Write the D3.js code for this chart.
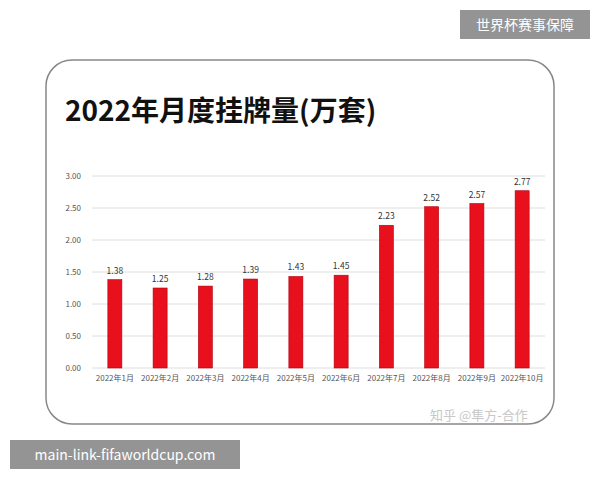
<!DOCTYPE html>
<html><head><meta charset="utf-8">
<script src="https://cdn.jsdelivr.net/npm/d3@7"></script>
<style>body{margin:0;background:#fff}svg{display:block}</style>
</head><body>
<svg id="c" width="600" height="480"></svg>
<script>
const categories=["2022年1月","2022年2月","2022年3月","2022年4月","2022年5月","2022年6月","2022年7月","2022年8月","2022年9月","2022年10月"];
const values=[1.38,1.25,1.28,1.39,1.43,1.45,2.23,2.52,2.57,2.77];
const yTicks=[0,0.5,1,1.5,2,2.5,3];
const title="2022年月度挂牌量(万套)";
const svg=d3.select("#c");
const F="'Noto Sans CJK SC','Noto Sans',sans-serif";
svg.append("rect").attr("x",46).attr("y",60).attr("width",508).attr("height",364).attr("rx",26)
  .attr("fill","#fff").attr("stroke","#888").attr("stroke-width",1.5);
svg.append("text").attr("x",65).attr("y",121).text(title).attr("font-family",F).attr("font-size",28).attr("font-weight","bold").attr("fill","#111");
const x=d3.scaleBand().domain(categories).range([92,545]).paddingInner(0.69).paddingOuter(0.35);
const y=d3.scaleLinear().domain([0,3]).range([368,176]);
const g=svg.append("g");
g.selectAll("line.g").data(yTicks).join("line").attr("x1",92).attr("x2",545)
 .attr("y1",d=>y(d)).attr("y2",d=>y(d)).attr("stroke","#dedede").attr("stroke-width",1);
const ya=g.append("g").attr("transform","translate(84,0)").call(d3.axisLeft(y).tickValues(yTicks).tickFormat(d3.format(".2f")).tickSize(0));
ya.select(".domain").remove();
ya.selectAll("text").attr("font-family",F).attr("font-size",8).attr("fill","#555");
const xa=g.append("g").attr("transform","translate(0,372)").call(d3.axisBottom(x).tickSize(0));
xa.select(".domain").remove();
xa.selectAll("text").attr("font-family",F).attr("font-size",8).attr("fill","#555");
g.selectAll("rect.b").data(values).join("rect").attr("x",(d,i)=>x(categories[i])).attr("width",x.bandwidth())
 .attr("y",d=>y(d)).attr("height",d=>y(0)-y(d)).attr("fill","#e8101c").attr("stroke","#b00010").attr("stroke-width",0.6);
g.selectAll("text.v").data(values).join("text").attr("x",(d,i)=>x(categories[i])+x.bandwidth()/2).attr("y",d=>y(d)-6)
 .attr("text-anchor","middle").text(d=>d.toFixed(2)).attr("font-family",F).attr("font-size",8.5).attr("fill","#333");
svg.append("text").attr("x",430).attr("y",420).text("知乎 @隼方-合作").attr("font-family",F).attr("font-size",13).attr("fill","#c8c8c8");
svg.append("rect").attr("x",460).attr("y",10).attr("width",130).attr("height",29).attr("fill","#888").attr("opacity",0.9);
svg.append("text").attr("x",525).attr("y",30).attr("text-anchor","middle").text("世界杯赛事保障").attr("font-family",F).attr("font-size",14).attr("fill","#fff");
svg.append("rect").attr("x",10).attr("y",440).attr("width",230).attr("height",29).attr("fill","#888").attr("opacity",0.9);
svg.append("text").attr("x",125).attr("y",460).attr("text-anchor","middle").text("main-link-fifaworldcup.com").attr("font-family",F).attr("font-size",14).attr("fill","#fff");
</script></body></html>
